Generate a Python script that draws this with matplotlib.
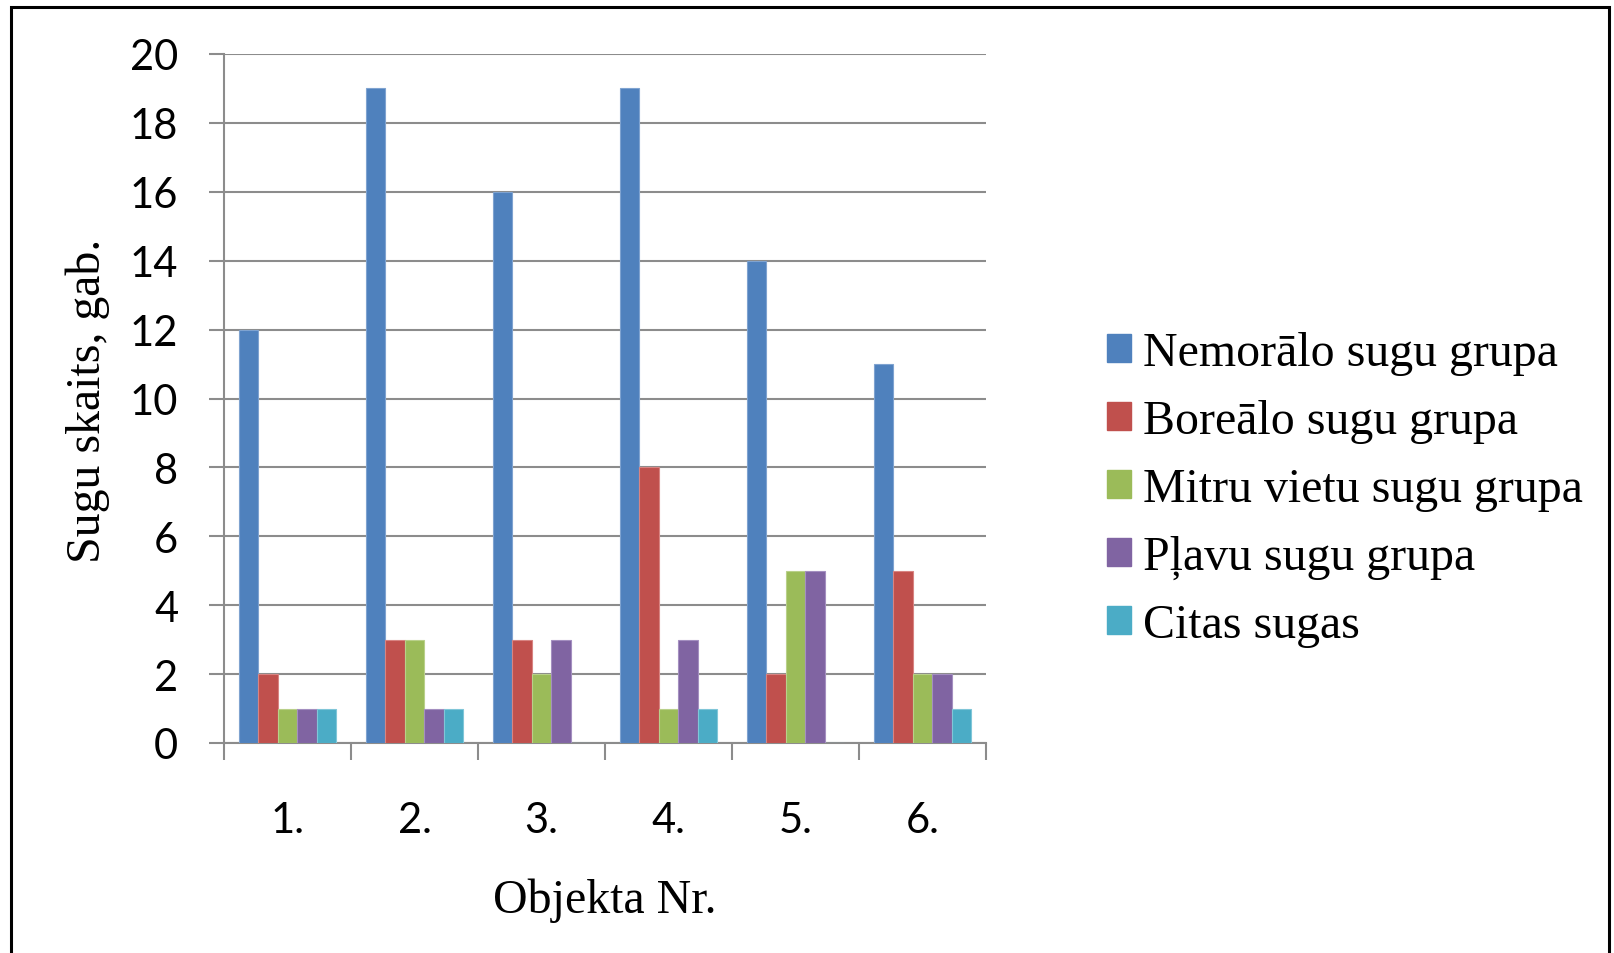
import matplotlib
matplotlib.use('Agg')
import matplotlib.pyplot as plt
import matplotlib.patches as patches
import numpy as np

W, H = 1614, 954

categories = ['1.', '2.', '3.', '4.', '5.', '6.']
series_names = ['Nemorālo sugu grupa', 'Boreālo sugu grupa', 'Mitru vietu sugu grupa',
                'Pļavu sugu grupa', 'Citas sugas']
nemoralo = [12, 19, 16, 19, 14, 11]
borealo = [2, 3, 3, 8, 2, 5]
mitru = [1, 3, 2, 1, 5, 2]
plavu = [1, 1, 3, 3, 5, 2]
citas = [1, 1, 0, 1, 0, 1]

colors = ['#4F81BD', '#C0504D', '#9BBB59', '#8064A2', '#4BACC6']
edges = ['#7FA3D0', '#D88482', '#B9D08A', '#A48FC0', '#80C6D8']

sans = 'Lato'
serif = 'Liberation Serif'
serif_size = 34.5
grid_color = '#8C8C8C'

fig = plt.figure(figsize=(W / 100, H / 100), dpi=100)
ax = fig.add_axes([224 / W, (H - 744) / H, 762 / W, (744 - 55) / H])

x = np.arange(len(categories))
bar_w = 0.153
all_series = [nemoralo, borealo, mitru, plavu, citas]
handles = []
for i, vals in enumerate(all_series):
    offs = (i - 2) * bar_w
    ax.bar(x + offs, vals, width=bar_w, color=colors[i], edgecolor=edges[i],
           linewidth=0.8, zorder=3, label=series_names[i])
    handles.append(patches.Patch(color=colors[i], label=series_names[i]))

ax.set_xlim(-0.5, len(categories) - 0.5)
ax.set_ylim(0, 20)
ax.set_yticks(range(0, 21, 2))
ax.yaxis.grid(True, color=grid_color, linewidth=1.5, zorder=0)
for s in ['top', 'right']:
    ax.spines[s].set_visible(False)
for s in ['left', 'bottom']:
    ax.spines[s].set_color(grid_color)
    ax.spines[s].set_linewidth(1.5)

ax.tick_params(axis='y', length=11, width=1.5, color=grid_color, pad=22,
               labelsize=30)
ax.set_xticks(x)
ax.set_xticklabels(categories)
ax.set_xticks(np.arange(-0.5, len(categories)), minor=True)
ax.tick_params(axis='x', which='major', length=0, pad=42, labelsize=30)
ax.tick_params(axis='x', which='minor', length=12, width=1.5, color=grid_color)
for lbl in ax.get_xticklabels() + ax.get_yticklabels():
    lbl.set_fontfamily(sans)

fig.text(88 / W, 1 - 401 / H, 'Sugu skaits, gab.', rotation=90, ha='center',
         va='center', fontsize=serif_size, family=serif)
fig.text(605 / W, 1 - 901 / H, 'Objekta Nr.', ha='center', va='center',
         fontsize=serif_size, family=serif)

fig.legend(handles=handles, loc='upper left', bbox_to_anchor=(1107 / W, 1 - 332 / H),
           frameon=False, borderpad=0, borderaxespad=0, handlelength=0.5,
           handleheight=0.5, handletextpad=0.25, labelspacing=0.5,
           prop={'family': serif, 'size': serif_size})

frame = patches.Rectangle((11 / W, -0.05), (1609 - 11) / W, 1.05 - 8 / H,
                          transform=fig.transFigure, fill=False,
                          edgecolor='black', linewidth=2.2, clip_on=False)
fig.add_artist(frame)

fig.savefig('out.png', dpi=100)
